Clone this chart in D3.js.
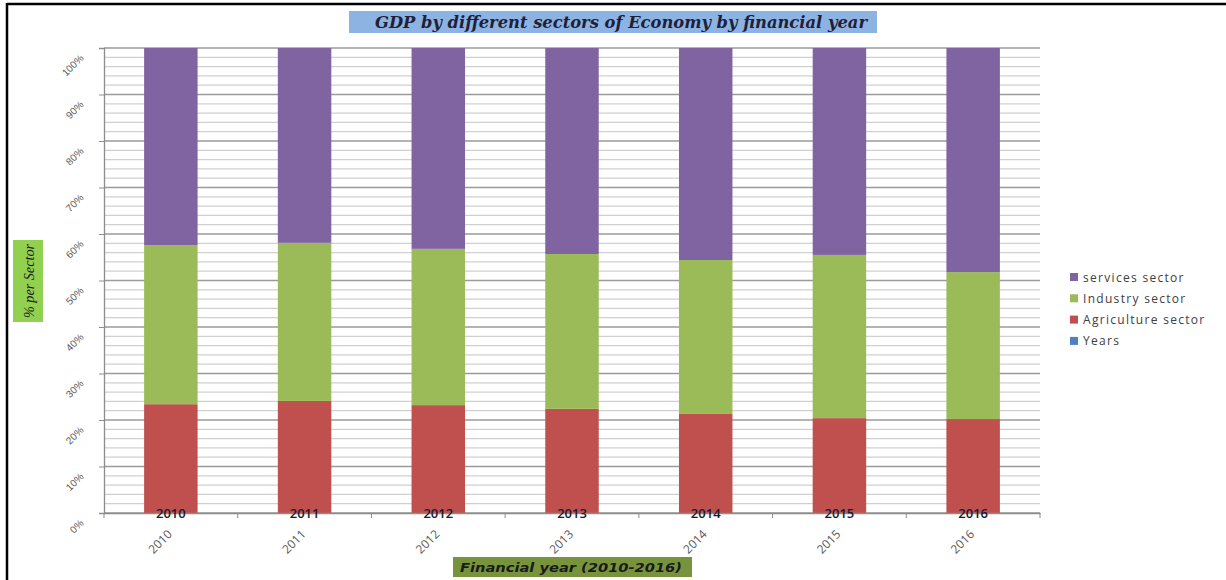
<!DOCTYPE html>
<html>
<head>
<meta charset="utf-8">
<script src="https://cdn.jsdelivr.net/npm/d3@7"></script>
<style>
  body { margin: 0; background: #fff; }
  svg { display: block; }
</style>
</head>
<body>
<div id="chart"></div>
<script>
// data (percent of GDP)
var years = ["2010", "2011", "2012", "2013", "2014", "2015", "2016"]
var agriculture = [23.4, 24.1, 23.2, 22.4, 21.3, 20.4, 20.2]
var industry = [34.2, 34.0, 33.6, 33.3, 33.1, 35.1, 31.6]
var services = [42.4, 41.9, 43.2, 44.3, 45.6, 44.5, 48.2]
var yTicks = [0, 10, 20, 30, 40, 50, 60, 70, 80, 90, 100]
var legendNames = ["services sector", "Industry sector", "Agriculture  sector", "Years"]

var W = 1226, H = 580
var margin = {top: 48, left: 104, right: 186, bottom: 67}

var svg = d3.select("#chart").append("svg")
  .attr("width", W).attr("height", H)

// outer frame
svg.append("line").attr("x1", 7).attr("x2", W).attr("y1", 4).attr("y2", 4)
  .attr("stroke", "#000").attr("stroke-width", 2.5)
svg.append("line").attr("x1", 7).attr("x2", 7).attr("y1", 3).attr("y2", H)
  .attr("stroke", "#000").attr("stroke-width", 2.5)

var x = d3.scaleBand().domain(years)
  .range([margin.left, W - margin.right]).paddingInner(0.6).paddingOuter(0.3)
var y = d3.scaleLinear().domain([0, 100]).range([H - margin.bottom, margin.top])

// gridlines: minor every 2%, major every 10%
var minor = d3.range(0, 101, 2)
svg.append("g").selectAll("line").data(minor).join("line")
  .attr("x1", margin.left).attr("x2", W - margin.right)
  .attr("y1", d => y(d)).attr("y2", d => y(d))
  .attr("stroke", d => d % 10 == 0 ? "#9a9a9a" : "#d0d0d0")
  .attr("stroke-width", 1.3)

// stacked bars
var rows = years.map(function(yr, i) {
  return {year: yr, agri: agriculture[i], ind: industry[i], serv: services[i]}
})
var stack = d3.stack().keys(["agri", "ind", "serv"])(rows)
var color = {agri: "#c0504d", ind: "#9bbb59", serv: "#8064a2"}

svg.append("g").selectAll("g").data(stack).join("g")
  .attr("fill", d => color[d.key])
  .selectAll("rect").data(d => d).join("rect")
  .attr("x", d => x(d.data.year))
  .attr("width", x.bandwidth())
  .attr("y", d => y(d[1]))
  .attr("height", d => y(d[0]) - y(d[1]))

// y axis
var yAxis = svg.append("g")
  .attr("transform", "translate(" + margin.left + ",0)")
  .call(d3.axisLeft(y).tickValues(yTicks).tickSize(5).tickFormat(d => d + "%"))
yAxis.select(".domain").attr("stroke", "#8c8c8c").attr("stroke-width", 1.3)
yAxis.selectAll(".tick line").attr("stroke", "#8c8c8c")
yAxis.selectAll("text")
  .attr("font-family", "Liberation Sans, Arial, sans-serif")
  .attr("font-size", 10).attr("fill", "#595959")
  .attr("text-anchor", "end")
  .attr("transform", "translate(-22,8) rotate(-45)")
  .attr("dx", 0).attr("x", 0).attr("y", 0)

// x axis
var xAxis = svg.append("g")
  .attr("transform", "translate(0," + y(0) + ")")
  .call(d3.axisBottom(x).tickSize(0).tickFormat(""))
xAxis.select(".domain").attr("stroke", "#8c8c8c").attr("stroke-width", 1.3)
var bounds = d3.range(0, years.length + 1).map(i => margin.left + i * (W - margin.left - margin.right) / years.length)
svg.append("g").selectAll("line").data(bounds).join("line")
  .attr("x1", d => d).attr("x2", d => d)
  .attr("y1", y(0)).attr("y2", y(0) + 5)
  .attr("stroke", "#8c8c8c")

svg.append("g").selectAll("text").data(years).join("text")
  .attr("transform", d => "translate(" + (x(d) + x.bandwidth() / 2 + 2) + "," + (y(0) + 22) + ") rotate(-45)")
  .attr("text-anchor", "end")
  .attr("font-family", "Open Sans, sans-serif")
  .attr("font-size", 12).attr("fill", "#595959")
  .text(d => d)

// "Years" data labels at bar bottoms
svg.append("g").selectAll("text").data(years).join("text")
  .attr("x", d => x(d) + x.bandwidth() / 2)
  .attr("y", y(0) + 5)
  .attr("text-anchor", "middle")
  .attr("font-family", "Open Sans, sans-serif")
  .attr("font-size", 13).attr("font-weight", 600).attr("fill", "#1a1a2e")
  .text(d => d)

// title
svg.append("rect").attr("x", 349).attr("y", 11).attr("width", 528).attr("height", 22)
  .attr("fill", "#8db3e2")
svg.append("text").attr("x", 621).attr("y", 28)
  .attr("text-anchor", "middle")
  .attr("font-family", "DejaVu Serif Condensed, Liberation Serif, serif")
  .attr("font-style", "italic").attr("font-weight", "bold")
  .attr("font-size", 17).attr("fill", "#1f1f3a")
  .attr("textLength", 492).attr("lengthAdjust", "spacingAndGlyphs")
  .text("GDP by different sectors of Economy by financial  year")

// y label
svg.append("rect").attr("x", 13).attr("y", 240).attr("width", 30).attr("height", 82)
  .attr("fill", "#92d050")
svg.append("text")
  .attr("transform", "translate(34,281) rotate(-90)")
  .attr("text-anchor", "middle")
  .attr("font-family", "Liberation Serif, serif")
  .attr("font-style", "italic").attr("font-size", 14).attr("fill", "#1a1a1a")
  .attr("textLength", 74).attr("lengthAdjust", "spacingAndGlyphs")
  .text("% per Sector")

// x title
svg.append("rect").attr("x", 453).attr("y", 557).attr("width", 239).attr("height", 20)
  .attr("fill", "#77933c")
svg.append("text").attr("x", 571).attr("y", 572)
  .attr("text-anchor", "middle")
  .attr("font-family", "DejaVu Sans, sans-serif")
  .attr("font-style", "italic").attr("font-weight", "bold")
  .attr("font-size", 12).attr("fill", "#1a1a1a")
  .attr("textLength", 222).attr("lengthAdjust", "spacingAndGlyphs")
  .text("Financial  year (2010-2016)")

// legend
var legColors = ["#8064a2", "#9bbb59", "#c0504d", "#4f81bd"]
var leg = svg.append("g").selectAll("g").data(legendNames).join("g")
  .attr("transform", (d, i) => "translate(1070," + (273 + i * 21.3) + ")")
leg.append("rect").attr("width", 8).attr("height", 8).attr("fill", (d, i) => legColors[i])
leg.append("text").attr("x", 13).attr("y", 8.5)
  .attr("font-family", "Open Sans, sans-serif")
  .attr("font-size", 12).attr("fill", "#404040")
  .attr("letter-spacing", 1.3)
  .text(d => d)
</script>
</body>
</html>
